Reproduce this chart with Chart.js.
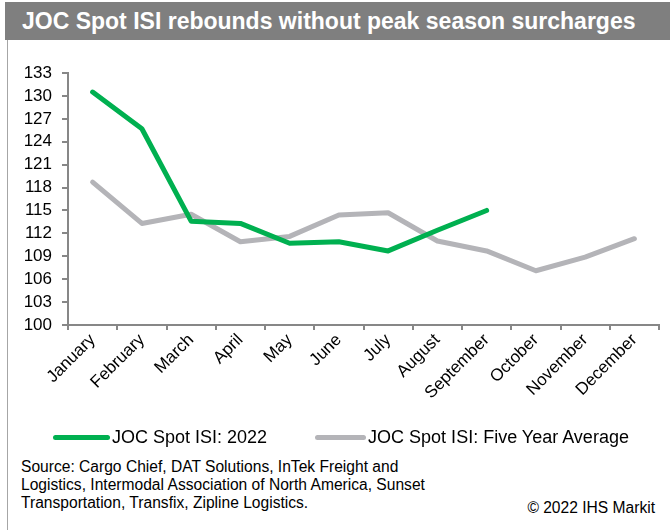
<!DOCTYPE html>
<html>
<head>
<meta charset="utf-8">
<title>JOC Spot ISI</title>
<script src="https://cdn.jsdelivr.net/npm/chart.js@4.4.0/dist/chart.umd.min.js"></script>
<style>
  body { margin: 0; width: 670px; height: 530px; background: #fff; position: relative; overflow: hidden;
         font-family: "Liberation Sans", Arial, sans-serif; color: #000; }
  #title { position: absolute; left: 5px; top: 2px; right: 0; height: 38px; background: #7f7f7f; color: #fff;
           font-weight: bold; font-size: 23px; line-height: 38px; padding-left: 17px; white-space: nowrap; }
  #edge { position: absolute; left: 7px; top: 40px; bottom: 0; width: 1px; background: #a6a6a6; }
  #chartBox { position: absolute; left: 8px; top: 41px; width: 662px; height: 400px; }
  #legend { position: absolute; left: 53px; top: 426px; height: 22px; display: flex; align-items: center;
            font-size: 18px; white-space: nowrap; }
  #legend .item { display: flex; align-items: center; }
  #legend .item + .item { margin-left: 48px; }
  #legend .swatch { display: inline-block; height: 5px; border-radius: 3px; margin-right: 2px; }
  #source { position: absolute; left: 21px; top: 458px; font-size: 15.6px; line-height: 18px; white-space: nowrap; }
  #copy { position: absolute; right: 15px; top: 499px; font-size: 15.6px; }
</style>
</head>
<body>
<div id="title">JOC Spot ISI rebounds without peak season surcharges</div>
<div id="edge"></div>
<div id="chartBox"><canvas id="isiChart" width="662" height="400"></canvas></div>
<div id="legend"></div>
<div id="source">Source: Cargo Chief, DAT Solutions, InTek Freight and<br>Logistics, Intermodal Association of North America, Sunset<br>Transportation, Transfix, Zipline Logistics.</div>
<div id="copy">&copy; 2022 IHS Markit</div>

<script>
// months on the x axis
const months = ['January', 'February', 'March', 'April', 'May', 'June',
                'July', 'August', 'September', 'October', 'November', 'December'];

// 2022 index, Jan-Sep only
const spot2022 = [130.5, 125.7, 113.6, 113.3, 110.7, 110.9, 109.7, 112.4, 115.0, null, null, null];

// five year average
const fiveYearAvg = [118.7, 113.3, 114.5, 110.9, 111.6, 114.4, 114.7, 111.0, 109.7, 107.1, 108.9, 111.3];

// y axis labels
const yTicks = [100, 103, 106, 109, 112, 115, 118, 121, 124, 127, 130, 133];

const axisGrey = '#878787';

Chart.defaults.font.family = "'Liberation Sans', Arial, sans-serif";
Chart.defaults.color = '#000';

const isiChart = new Chart(document.getElementById('isiChart'), {
  type: 'line',
  data: {
    labels: months,
    datasets: [
      {
        label: 'JOC Spot ISI: 2022',
        data: spot2022,
        borderColor: '#00b050',
        borderWidth: 5,
        borderCapStyle: 'round',
        borderJoinStyle: 'round',
        pointRadius: 0,
        tension: 0,
      },
      {
        label: 'JOC Spot ISI: Five Year Average',
        data: fiveYearAvg,
        borderColor: '#b4b4b8',
        borderWidth: 5,
        borderCapStyle: 'round',
        borderJoinStyle: 'round',
        pointRadius: 0,
        tension: 0,
      },
    ],
  },
  options: {
    responsive: false,
    animation: false,
    devicePixelRatio: 1,
    layout: { padding: { left: 0, top: 32, right: 11, bottom: 16 } },
    plugins: {
      legend: { display: false },
      tooltip: { enabled: false },
    },
    scales: {
      x: {
        offset: true,
        grid: { offset: true, drawOnChartArea: false, tickLength: 5, color: axisGrey, lineWidth: 2 },
        border: { color: axisGrey, width: 2 },
        ticks: { minRotation: 45, maxRotation: 45, padding: 0, font: { size: 17 }, autoSkip: false },
        afterFit: (scale) => { scale.height = 100; },
      },
      y: {
        min: 100,
        max: 133,
        grid: { drawOnChartArea: false, tickLength: 6, color: axisGrey, lineWidth: 2 },
        border: { color: axisGrey, width: 2 },
        ticks: { padding: 10, font: { size: 17 }, autoSkip: false },
        afterBuildTicks: (scale) => { scale.ticks = yTicks.map((v) => ({ value: v })); },
        afterFit: (scale) => { scale.width = 60; },
      },
    },
  },
});

// legend row built from the datasets (line swatch + label)
const legendEl = document.getElementById('legend');
isiChart.data.datasets.forEach((ds, i) => {
  const item = document.createElement('span');
  item.className = 'item';
  const swatch = document.createElement('span');
  swatch.className = 'swatch';
  swatch.style.background = ds.borderColor;
  swatch.style.width = (i === 0 ? 57 : 51) + 'px';
  item.appendChild(swatch);
  item.appendChild(document.createTextNode(ds.label));
  legendEl.appendChild(item);
});
</script>
</body>
</html>
